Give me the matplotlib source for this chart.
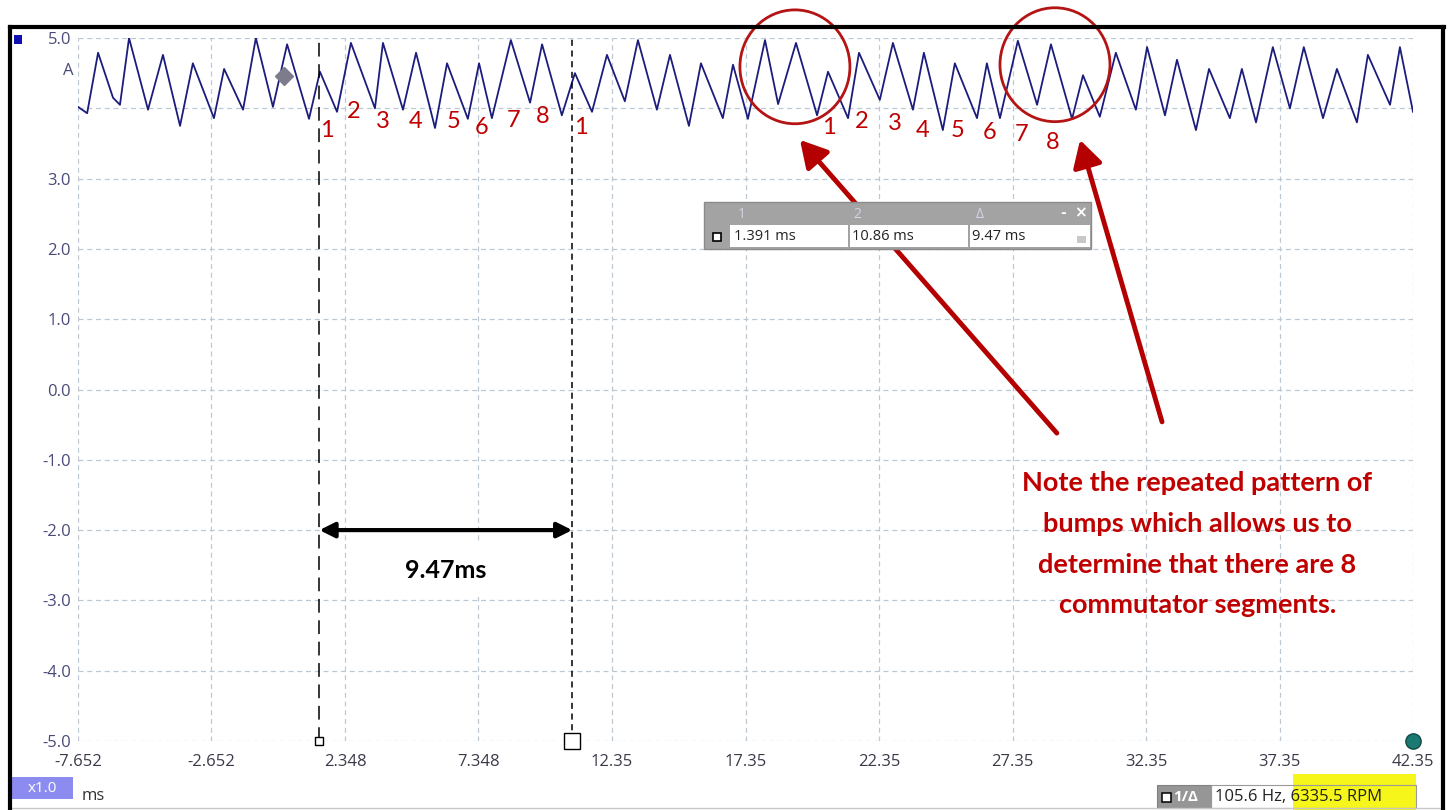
import matplotlib
matplotlib.use("Agg")
from matplotlib import pyplot as plt
from matplotlib.patches import Ellipse, Rectangle, FancyArrowPatch
import numpy as np

# waveform vertices (peaks and troughs), ms / A
wave_t = [-7.65, -7.31, -6.90, -6.34, -6.08, -5.74, -5.03, -4.47, -3.83, -3.35,
          -2.56, -2.18, -1.47, -0.99, -0.35, 0.18, 1.00, 1.41, 2.05, 2.57,
          3.47, 3.77, 4.52, 5.01, 5.72, 6.17, 6.95, 7.37, 7.85, 8.56,
          9.28, 9.73, 10.47, 10.96, 11.60, 12.16, 12.83, 13.32, 14.03, 14.52,
          15.23, 15.68, 16.50, 16.88, 17.44, 18.08, 18.57, 19.24, 20.03, 20.44,
          21.19, 21.60, 22.38, 22.87, 23.62, 24.03, 24.74, 25.19, 26.02, 26.39,
          26.88, 27.55, 28.27, 28.79, 29.58, 29.99, 30.62, 31.22, 31.97, 32.39,
          33.06, 33.51, 34.22, 34.71, 35.49, 35.94, 36.47, 37.10, 37.74, 38.26,
          38.98, 39.50, 40.25, 40.66, 41.49, 41.86, 42.35]
wave_a = [4.02, 3.93, 4.79, 4.15, 4.05, 5.00, 3.98, 4.76, 3.75, 4.64,
          3.86, 4.56, 3.98, 5.00, 4.02, 4.91, 3.85, 4.52, 3.95, 4.93,
          4.00, 4.93, 3.98, 4.79, 3.72, 4.64, 3.85, 4.64, 3.86, 4.97,
          4.08, 4.91, 3.90, 4.50, 3.95, 4.76, 4.10, 4.97, 3.98, 4.76,
          3.75, 4.64, 3.86, 4.62, 3.85, 4.97, 4.06, 4.93, 3.90, 4.52,
          3.86, 4.79, 4.12, 4.93, 3.98, 4.79, 3.69, 4.64, 3.86, 4.64,
          3.86, 4.96, 4.05, 4.91, 3.85, 4.47, 3.88, 4.79, 3.98, 4.87,
          3.90, 4.69, 3.69, 4.56, 3.86, 4.56, 3.80, 4.87, 4.00, 4.87,
          3.86, 4.56, 3.80, 4.76, 4.05, 4.87, 3.95]

x_ticks = [-7.652, -2.652, 2.348, 7.348, 12.35, 17.35, 22.35, 27.35, 32.35, 37.35, 42.35]
x_labels = ["-7.652", "-2.652", "2.348", "7.348", "12.35", "17.35", "22.35",
            "27.35", "32.35", "37.35", "42.35"]
y_ticks = [5.0, 4.0, 3.0, 2.0, 1.0, 0.0, -1.0, -2.0, -3.0, -4.0, -5.0]
y_labels = ["5.0", "", "3.0", "2.0", "1.0", "0.0", "-1.0", "-2.0", "-3.0", "-4.0", "-5.0"]

cursor1 = 1.391
cursor2 = 10.86
delta = 9.47
readouts = ["1.391 ms", "10.86 ms", "9.47 ms"]
freq_text = "105.6 Hz, 6335.5 RPM"
trigger = (0.06, 4.46)

# bump numbering labels (position in ms / A)
num_text = ["1", "2", "3", "4", "5", "6", "7", "8", "1"]
num1_t = [1.67, 2.68, 3.77, 5.01, 6.43, 7.48, 8.68, 9.76, 11.19]
num1_a = [3.69, 3.95, 3.81, 3.81, 3.81, 3.72, 3.83, 3.89, 3.72]
num2_t = [20.47, 21.71, 22.95, 23.99, 25.31, 26.51, 27.70, 28.86]
num2_a = [3.72, 3.81, 3.78, 3.69, 3.69, 3.66, 3.63, 3.52]

note = ("Note the repeated pattern of\nbumps which allows us to\n"
        "determine that there are 8\ncommutator segments.")

W, H = 1455, 810
RED = "#c00000"
NAVY = "#1c1c7c"


def fx(px):
    return px / W


def fy(py):
    return 1 - py / H


fig = plt.figure(figsize=(W / 100, H / 100), dpi=100)
ax = fig.add_axes([fx(78), fy(741), fx(1413) - fx(78), fy(38) - fy(741)])
ax.set_xlim(x_ticks[0], x_ticks[-1])
ax.set_ylim(-5.0, 5.0)
for s in ax.spines.values():
    s.set_visible(False)
ax.set_xticks(x_ticks)
ax.set_xticklabels(x_labels, fontsize=12, color="#3a3a4a", family="Open Sans")
ax.set_yticks(y_ticks)
ax.set_yticklabels(y_labels, fontsize=12, color="#4a4a7a", family="Open Sans")
ax.tick_params(axis="x", length=0, pad=9)
ax.tick_params(axis="y", length=0, pad=5)
ax.grid(True, color="#bcc8d2", linestyle=(0, (4, 3)), linewidth=0.9)
ax.set_axisbelow(True)

# trace
ax.plot(wave_t, wave_a, color=NAVY, linewidth=1.3, zorder=3)

# cursors
ax.plot([cursor1, cursor1], [-5, 5], color="black", linewidth=1.1,
        linestyle=(0, (9, 5)), zorder=4)
ax.plot([cursor2, cursor2], [-5, 5], color="black", linewidth=1.1,
        linestyle=(0, (4, 3)), zorder=4)
ax.plot([cursor1], [-5], marker="s", markersize=6, markerfacecolor="white",
        markeredgecolor="black", clip_on=False, zorder=5)
ax.plot([cursor2], [-5], marker="s", markersize=11, markerfacecolor="white",
        markeredgecolor="black", clip_on=False, zorder=5)
ax.plot([trigger[0]], [trigger[1]], marker="D", markersize=9, color="#7c7c8c",
        zorder=5)
ax.plot([x_ticks[-1]], [-5], marker="o", markersize=11, markerfacecolor="#1a7a72",
        markeredgecolor="#104a44", clip_on=False, zorder=5)

# bump numbers
for txt, t, a in zip(num_text, num1_t, num1_a):
    ax.text(t, a, txt, color=RED, fontsize=17, family="Lato", ha="center",
            va="center", zorder=6)
for txt, t, a in zip(num_text[:8], num2_t, num2_a):
    ax.text(t, a, txt, color=RED, fontsize=17, family="Lato", ha="center",
            va="center", zorder=6)

# circles round the repeated pattern
for cx, cy in [(19.20, 4.59), (28.94, 4.62)]:
    ax.add_patch(Ellipse((cx, cy), 4.12, 1.62, fill=False, edgecolor="#b41414",
                         linewidth=2, clip_on=False, zorder=7))

# red arrows from the note to the circles
for start, end in [((29.01, -0.62), (19.39, 3.55)), ((32.95, -0.46), (29.88, 3.55))]:
    ax.add_patch(FancyArrowPatch(start, end, arrowstyle="-|>,head_length=16,head_width=9",
                                 color="#b40000", linewidth=3.5, mutation_scale=1,
                                 shrinkA=0, shrinkB=0, zorder=9))

ax.text(34.27, -2.2, note, color=RED, fontsize=19.5, family="Lato",
        fontweight="bold", ha="center", va="center", linespacing=1.84, zorder=8)

# delta measurement
ax.annotate("", xy=(cursor1, -2.0), xytext=(cursor2, -2.0),
            arrowprops=dict(arrowstyle="<|-|>,head_length=0.9,head_width=0.45",
                            color="black", linewidth=3, shrinkA=0, shrinkB=0),
            zorder=6)
ax.text((cursor1 + cursor2) / 2, -2.57, "%.2fms" % delta, fontsize=18, family="Lato",
        fontweight="bold", ha="center", va="center", zorder=6,
        bbox=dict(boxstyle="square,pad=0.6", facecolor="white", edgecolor="none"))

# cursor readout window
fig.add_artist(Rectangle((fx(704), fy(249)), fx(1091) - fx(704), fy(202) - fy(249),
                         transform=fig.transFigure, facecolor="#a3a3a3",
                         edgecolor="#8a8a8a", linewidth=1, zorder=10))
for x0, x1 in [(730, 848), (850, 968), (970, 1090)]:
    fig.add_artist(Rectangle((fx(x0), fy(247)), fx(x1) - fx(x0), fy(225) - fy(247),
                             transform=fig.transFigure, facecolor="white",
                             edgecolor="none", zorder=11))
for xp, lab in [(742, "1"), (857, "2"), (980, "\u0394")]:
    fig.text(fx(xp), fy(214), lab, fontsize=10, color="#d4d4e4", ha="center",
             va="center", family="Open Sans", zorder=12)
fig.text(fx(1063), fy(213), "-", fontsize=10, color="white", fontweight="bold",
         ha="center", va="center", zorder=12)
fig.text(fx(1080), fy(213), "\u00d7", fontsize=11, color="white", fontweight="bold",
         ha="center", va="center", zorder=12)
fig.add_artist(Rectangle((fx(713), fy(241)), fx(721) - fx(713), fy(233) - fy(241),
                         transform=fig.transFigure, facecolor="white",
                         edgecolor="black", linewidth=1.2, zorder=12))
for xp, txt in zip([734, 852, 972], readouts):
    fig.text(fx(xp), fy(237), txt, fontsize=10.5, color="#222222", ha="left",
             va="center", family="Open Sans", zorder=12)
fig.add_artist(Rectangle((fx(1077), fy(243)), fx(1086) - fx(1077), fy(236) - fy(243),
                         transform=fig.transFigure, facecolor="#c8c8c8",
                         edgecolor="none", zorder=12))

# channel marker and unit
fig.add_artist(Rectangle((fx(14), fy(44)), fx(22) - fx(14), fy(35) - fy(44),
                         transform=fig.transFigure, facecolor="#1010b0",
                         edgecolor="none", zorder=10))
fig.text(fx(68), fy(71), "A", fontsize=12, color="#4a4a7a", ha="center",
         va="center", family="Open Sans")

# bottom left scale box
fig.add_artist(Rectangle((fx(12), fy(799)), fx(73) - fx(12), fy(777) - fy(799),
                         transform=fig.transFigure, facecolor="#8c8cf0",
                         edgecolor="none", zorder=10))
fig.text(fx(42), fy(788), "x1.0", fontsize=11, color="white", ha="center",
         va="center", family="Open Sans", zorder=11)
fig.text(fx(82), fy(796), "ms", fontsize=12, color="#333333", ha="left",
         va="center", family="Open Sans")

# bottom right frequency readout
fig.add_artist(Rectangle((fx(1293), fy(810)), fx(1416) - fx(1293), fy(774) - fy(810),
                         transform=fig.transFigure, facecolor="#f6f61a",
                         edgecolor="none", zorder=9))
fig.add_artist(Rectangle((fx(1157), fy(808)), fx(1211) - fx(1157), fy(785) - fy(808),
                         transform=fig.transFigure, facecolor="#969696",
                         edgecolor="#808080", linewidth=0.8, zorder=10))
fig.add_artist(Rectangle((fx(1211), fy(808)), fx(1416) - fx(1211), fy(785) - fy(808),
                         transform=fig.transFigure, facecolor="none",
                         edgecolor="#9a9a9a", linewidth=0.8, zorder=10))
fig.add_artist(Rectangle((fx(1162), fy(802)), fx(1171) - fx(1162), fy(793) - fy(802),
                         transform=fig.transFigure, facecolor="white",
                         edgecolor="black", linewidth=1.1, zorder=11))
fig.text(fx(1173), fy(797), "1/\u0394", fontsize=11, color="white", fontweight="bold",
         ha="left", va="center", family="Open Sans", zorder=11)
fig.text(fx(1215), fy(797), freq_text, fontsize=12, color="#222222", ha="left",
         va="center", family="Open Sans", zorder=11)

# outer window frame
frame = dict(transform=fig.transFigure, color="black", zorder=20)
fig.add_artist(plt.Line2D([fx(10), fx(1444)], [fy(27), fy(27)], linewidth=3, **frame))
fig.add_artist(plt.Line2D([fx(10), fx(10)], [fy(27), fy(810)], linewidth=3, **frame))
fig.add_artist(plt.Line2D([fx(1443), fx(1443)], [fy(27), fy(810)], linewidth=3, **frame))
fig.add_artist(plt.Line2D([fx(10), fx(1444)], [fy(808), fy(808)], linewidth=1,
                          transform=fig.transFigure, color="#c8c8c8", zorder=19))

fig.savefig("out.png", dpi=100)
